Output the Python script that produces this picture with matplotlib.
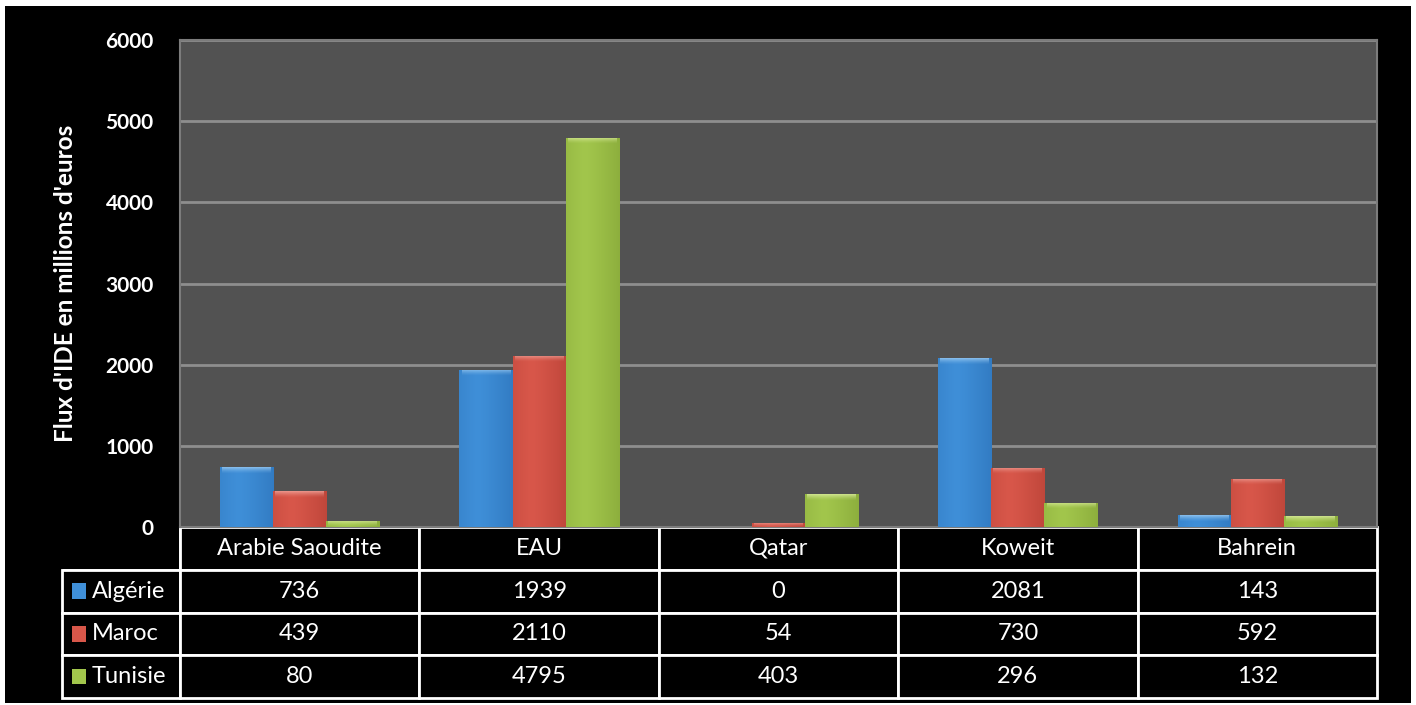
import numpy as np
import matplotlib
matplotlib.use('Agg')
import matplotlib.pyplot as plt
from matplotlib.patches import Rectangle
from matplotlib.table import Table

plt.rcParams['font.family'] = ['Lato', 'DejaVu Sans']

# données
pays = ['Arabie Saoudite', 'EAU', 'Qatar', 'Koweit', 'Bahrein']
series = ['Algérie', 'Maroc', 'Tunisie']
algerie = [736, 1939, 0, 2081, 143]
maroc = [439, 2110, 54, 730, 592]
tunisie = [80, 4795, 403, 296, 132]
valeurs = [algerie, maroc, tunisie]
yticks = [0, 1000, 2000, 3000, 4000, 5000, 6000]

couleurs = ['#3f8fd8', '#d8574a', '#a2c64c']
sombres = ['#2a6fb5', '#b03c31', '#7f9f33']
clairs = ['#a6d2f6', '#f4ada4', '#e2f2a8']

W, H = 1416, 705
fig = plt.figure(figsize=(W / 100, H / 100), dpi=100, facecolor='white')
# fond noir
fig.patches.append(Rectangle((5 / W, 2 / H), (1411 - 5) / W, (699 - 2) / H,
                             transform=fig.transFigure, facecolor='black',
                             edgecolor='none', zorder=-10))

ax = fig.add_axes([180 / W, 1 - 527 / H, (1377 - 180) / W, (527 - 40) / H])
ax.set_facecolor('#525252')
for s in ax.spines.values():
    s.set_color('#7c7c7c')
    s.set_linewidth(1.5)

x = np.arange(len(pays))
bw = 0.222
offsets = [-bw, 0, bw]

grad = np.linspace(0, 1, 64)
prof = 1 - 0.55 * np.abs(grad - 0.35) ** 1.2
vgrad = np.linspace(0, 1, 32)[:, None]  # biseau : clair en haut, transparent en bas

for i, vals in enumerate(valeurs):
    bars = ax.bar(x + offsets[i], vals, width=bw, color=couleurs[i],
                  edgecolor='none', zorder=3)
    # dégradé horizontal + biseau en haut
    cmap = matplotlib.colors.LinearSegmentedColormap.from_list(
        'g%d' % i, [sombres[i], couleurs[i]])
    hl = np.zeros((32, 1, 4))
    hl[..., :3] = matplotlib.colors.to_rgb(clairs[i])
    hl[..., 3] = 0.75 * vgrad ** 1.5
    for b, v in zip(bars, vals):
        if v <= 0:
            continue
        x0 = b.get_x()
        im = ax.imshow(prof[None, :], extent=(x0, x0 + bw, 0, v), aspect='auto',
                       cmap=cmap, vmin=0.45, vmax=1, zorder=3.5)
        im.set_clip_path(b)
        top = min(80, v)
        im2 = ax.imshow(hl, extent=(x0 + bw * 0.04, x0 + bw * 0.96, v - top, v),
                        aspect='auto', origin='lower', zorder=4)
        im2.set_clip_path(b)

ax.set_xlim(-0.5, len(pays) - 0.5)
ax.set_ylim(0, 6000)
ax.set_yticks(yticks)
ax.set_yticklabels([str(t) for t in yticks], color='white', fontsize=15,
                   fontweight='bold')
ax.tick_params(axis='y', length=0, pad=19)
ax.set_xticks([])
ax.grid(axis='y', color='#8e8e8e', linewidth=2.0, zorder=1)
ax.set_axisbelow(True)
ax.set_ylabel("Flux d'IDE en millions d'euros", color='white', fontsize=17.5,
              fontweight='bold')
ax.yaxis.set_label_coords(-0.086, 0.5)

# tableau de données
left = (62 - 180) / (1377 - 180)
t_h = (698 - 527) / (527 - 40)
tbl = Table(ax, bbox=[left, -t_h, -left + 1, t_h])
lab_w = 118
col_w = (1377 - 180) / len(pays)
n_rows = len(series) + 1
for c, p in enumerate(pays):
    tbl.add_cell(0, c + 1, width=col_w, height=1, text=p, loc='center',
                 facecolor='black', edgecolor='white')
cell = tbl.add_cell(0, 0, width=lab_w, height=1, text='', facecolor='black',
                    edgecolor='white')
cell.visible_edges = 'BR'
for r, (nom, vals) in enumerate(zip(series, valeurs)):
    tbl.add_cell(r + 1, 0, width=lab_w, height=1, text='', facecolor='black',
                 edgecolor='white')
    for c, v in enumerate(vals):
        tbl.add_cell(r + 1, c + 1, width=col_w, height=1, text=str(v),
                     loc='center', facecolor='black', edgecolor='white')
tbl.auto_set_font_size(False)
tbl.set_fontsize(17)
for (r, c), cell in tbl.get_celld().items():
    cell.set_linewidth(2.0)
    cell.get_text().set_color('white')
ax.add_table(tbl)

# étiquettes de séries avec carrés de couleur
rh = t_h / n_rows
for r, nom in enumerate(series):
    yc = -rh * (r + 1.5)
    ax.add_patch(Rectangle(((72 - 180) / 1197, yc - 0.016), 14 / 1197, 0.032,
                           transform=ax.transAxes, facecolor=couleurs[r],
                           edgecolor='none', clip_on=False, zorder=10))
    ax.text((92 - 180) / 1197, yc, nom, transform=ax.transAxes, color='white',
            fontsize=17, ha='left', va='center', zorder=10)

fig.savefig('out.png', dpi=100, facecolor='white')
